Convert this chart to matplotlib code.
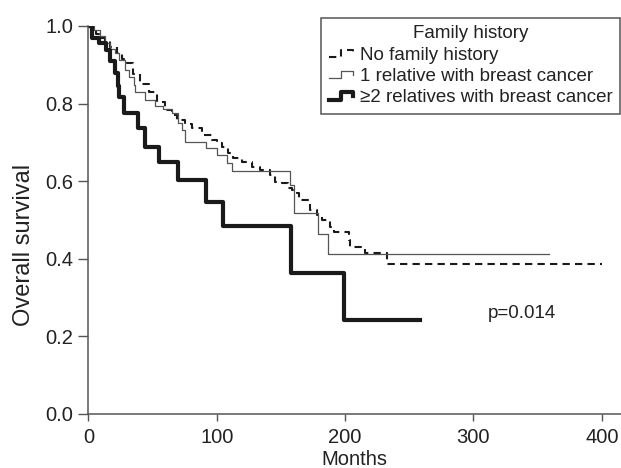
import matplotlib
matplotlib.use("Agg")
import matplotlib.pyplot as plt
from matplotlib.lines import Line2D
from matplotlib.legend_handler import HandlerBase

# Kaplan-Meier curves (months, survival after the drop)
none_t = [0, 2, 6, 10, 13, 17, 22, 26, 30, 35, 40.5, 47, 53.5, 60, 65, 69, 75, 81,
          88.5, 96, 100, 104, 109, 113, 119.5, 127.5, 134, 141.5, 145.5, 150.5,
          155.5, 158.5, 162.5, 163.8, 173, 178, 182, 188.4, 191, 202.8, 204,
          215.7, 232.6, 400]
none_s = [1.0, 0.99, 0.98, 0.97, 0.96, 0.947, 0.93, 0.915, 0.904, 0.876, 0.85, 0.829,
          0.805, 0.784, 0.771, 0.758, 0.747, 0.736, 0.719, 0.706, 0.699, 0.689,
          0.672, 0.659, 0.650, 0.637, 0.629, 0.616, 0.599, 0.595, 0.582, 0.578,
          0.569, 0.552, 0.526, 0.513, 0.50, 0.483, 0.470, 0.448, 0.431, 0.414,
          0.387, 0.387]

one_t = [0, 4, 9, 13, 17, 21, 23.6, 28.8, 31.4, 35.3, 36.6, 44.4, 52, 58, 65, 70,
         73, 75.6, 91.2, 100, 107.8, 111.7, 157.4, 160.5, 178.5, 186.3, 359]
one_s = [1.0, 0.99, 0.975, 0.955, 0.94, 0.93, 0.912, 0.887, 0.869, 0.848, 0.831,
         0.809, 0.795, 0.785, 0.775, 0.749, 0.732, 0.702, 0.685, 0.668, 0.646,
         0.626, 0.590, 0.517, 0.464, 0.412, 0.412]

two_t = [0, 3, 8, 14, 17, 21, 23, 24, 27.6, 38.5, 44, 55, 69.5, 91.5, 105, 158,
         199.5, 258]
two_s = [1.0, 0.97, 0.955, 0.938, 0.91, 0.878, 0.845, 0.818, 0.775, 0.736, 0.689,
         0.650, 0.603, 0.547, 0.485, 0.363, 0.242, 0.242]

labels = ["No family history", "1 relative with breast cancer",
          "\u22652 relatives with breast cancer"]


class StepHandler(HandlerBase):
    # small step-shaped legend icon like the original
    def create_artists(self, legend, orig, xdescent, ydescent, width, height,
                       fontsize, trans):
        x0 = -xdescent
        y0 = -ydescent
        xs = [x0, x0 + 0.5 * width, x0 + 0.5 * width, x0 + 0.95 * width, x0 + 0.95 * width]
        ys = [y0 + 0.2 * height, y0 + 0.2 * height, y0 + 0.75 * height,
              y0 + 0.75 * height, y0 + 0.45 * height]
        ln = Line2D(xs, ys)
        ln.update_from(orig)
        ln.set_transform(trans)
        return [ln]


plt.rcParams["font.family"] = ["Liberation Sans", "DejaVu Sans"]
plt.rcParams["font.size"] = 14.5
txt = "#222222"
axcol = "#555555"

fig = plt.figure(figsize=(6.21, 4.68), dpi=100)
ax = fig.add_axes([0.1425, 0.1155, 0.8575, 0.829])

l1, = ax.step(none_t, none_s, where="post", color="#1a1a1a", lw=1.5,
              linestyle=(0, (3.5, 2.5)))
l2, = ax.step(one_t, one_s, where="post", color="#555555", lw=0.9)
l3, = ax.step(two_t, two_s, where="post", color="#1a1a1a", lw=3.0)

ax.set_xlim(0, 415)
ax.set_ylim(0, 1.0)
ax.set_xticks([0, 100, 200, 300, 400])
ax.set_yticks([0.0, 0.2, 0.4, 0.6, 0.8, 1.0])
ax.set_yticklabels(["0.0", "0.2", "0.4", "0.6", "0.8", "1.0"])
for s in ["top", "right"]:
    ax.spines[s].set_visible(False)
for s in ["left", "bottom"]:
    ax.spines[s].set_color(axcol)
    ax.spines[s].set_linewidth(1.1)
ax.tick_params(direction="out", width=1, color=axcol, labelcolor=txt)
ax.tick_params(axis="y", length=7, pad=4)
ax.tick_params(axis="x", length=5, pad=5)
ax.set_xlabel("Months", color=txt)
ax.xaxis.set_label_coords(0.5, -0.092)
ax.set_ylabel("Overall survival", color=txt, fontsize=17)
ax.yaxis.set_label_coords(-0.1, 0.435)

ax.text(311, 0.26, "p=0.014", ha="left", va="center", color=txt, fontsize=13.5)

leg = ax.legend([l1, l2, l3], labels, title="Family history",
                handler_map={Line2D: StepHandler()},
                loc="upper right", bbox_to_anchor=(620 / 621, 1 - 18 / 468),
                bbox_transform=fig.transFigure, borderaxespad=0,
                fancybox=False, framealpha=1, edgecolor=axcol,
                handlelength=1.33, handletextpad=0.32, labelspacing=0.22,
                borderpad=0.4, fontsize=13.5, title_fontsize=13.5)
leg.get_frame().set_linewidth(1.1)
for t in leg.get_texts():
    t.set_color(txt)
leg.get_title().set_color(txt)

fig.savefig("out.png", dpi=100)
